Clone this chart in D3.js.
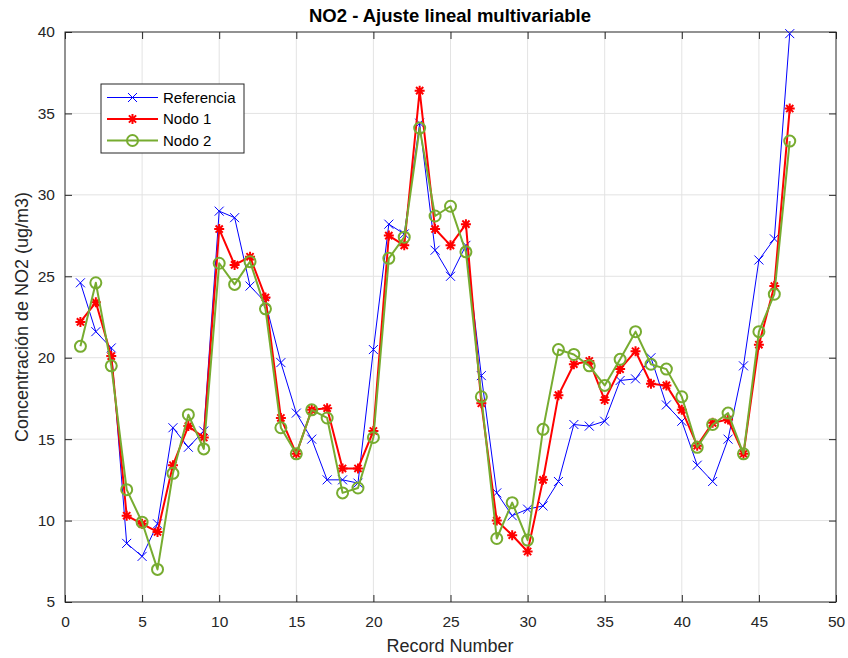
<!DOCTYPE html>
<html>
<head>
<meta charset="utf-8">
<script src="https://cdn.jsdelivr.net/npm/d3@7"></script>
<style>
  body { margin: 0; background: #fff; }
  svg { display: block; font-family: "Liberation Sans", Arial, Helvetica, sans-serif; }
</style>
</head>
<body>
<div id="chart"></div>
<script>
// NO2 - ajuste lineal multivariable
const referencia = [24.6, 21.6, 20.6, 8.6, 7.8, 9.8, 15.7, 14.5, 15.5, 29.0,
  28.6, 24.4, 23.4, 19.7, 16.6, 15.0, 12.5, 12.5, 12.3, 20.5,
  28.2, 27.6, 34.4, 26.6, 25.0, 26.9, 18.9, 11.7, 10.3, 10.7,
  10.9, 12.4, 15.9, 15.8, 16.1, 18.6, 18.7, 20.0, 17.1, 16.1,
  13.4, 12.4, 15.0, 19.5, 26.0, 27.3, 39.9];
const nodo1 = [22.2, 23.4, 20.1, 10.3, 9.8, 9.3, 13.4, 15.8, 15.1, 27.9,
  25.7, 26.2, 23.7, 16.3, 14.1, 16.8, 16.9, 13.2, 13.2, 15.5,
  27.5, 26.9, 36.4, 27.9, 26.9, 28.2, 17.2, 10.0, 9.1, 8.1,
  12.5, 17.7, 19.6, 19.8, 17.4, 19.3, 20.4, 18.4, 18.3, 16.8,
  14.6, 16.0, 16.2, 14.1, 20.8, 24.4, 35.3];
const nodo2 = [20.7, 24.6, 19.5, 11.9, 9.9, 7.0, 12.9, 16.5, 14.4, 25.8,
  24.5, 25.9, 23.0, 15.7, 14.1, 16.8, 16.3, 11.7, 12.0, 15.1,
  26.1, 27.4, 34.1, 28.7, 29.3, 26.5, 17.6, 8.9, 11.1, 8.8,
  15.6, 20.5, 20.2, 19.5, 18.3, 19.9, 21.6, 19.6, 19.3, 17.6,
  14.5, 15.9, 16.6, 14.1, 21.6, 23.9, 33.3];
const xTicks = [0, 5, 10, 15, 20, 25, 30, 35, 40, 45, 50];
const yTicks = [5, 10, 15, 20, 25, 30, 35, 40];

const W = 848, H = 658;
const margin = { top: 32, right: 12, bottom: 56, left: 65 };
const iw = 836 - margin.left, ih = 602 - margin.top;

const series = [
  { name: 'Referencia', values: referencia, color: '#0000ff', width: 1, marker: 'x' },
  { name: 'Nodo 1', values: nodo1, color: '#ff0000', width: 2, marker: 'star' },
  { name: 'Nodo 2', values: nodo2, color: '#77ac30', width: 2, marker: 'circle' }
];

const svg = d3.select('#chart').append('svg')
  .attr('width', W).attr('height', H);

const g = svg.append('g')
  .attr('transform', `translate(${margin.left},${margin.top})`);

const x = d3.scaleLinear().domain([0, 50]).range([0, iw]);
const y = d3.scaleLinear().domain([5, 40]).range([ih, 0]);

// grid
g.append('g').selectAll('line').data(xTicks.slice(1, -1)).enter().append('line')
  .attr('x1', d => x(d)).attr('x2', d => x(d))
  .attr('y1', 0).attr('y2', ih)
  .attr('stroke', '#e3e3e3').attr('stroke-width', 1);
g.append('g').selectAll('line').data(yTicks.slice(1, -1)).enter().append('line')
  .attr('x1', 0).attr('x2', iw)
  .attr('y1', d => y(d)).attr('y2', d => y(d))
  .attr('stroke', '#e3e3e3').attr('stroke-width', 1);

// axes (ticks inward, mirrored on top/right)
function styleAxis(sel) {
  sel.select('.domain').remove();
  sel.selectAll('.tick line').attr('stroke', '#262626');
  sel.selectAll('.tick text').attr('fill', '#262626')
    .attr('font-size', '15.5px');
}
g.append('g').attr('transform', `translate(0,${ih})`)
  .call(d3.axisBottom(x).tickValues(xTicks).tickSize(-7).tickPadding(14))
  .call(styleAxis);
g.append('g')
  .call(d3.axisLeft(y).tickValues(yTicks).tickSize(-7).tickPadding(10))
  .call(styleAxis);
g.append('g')
  .call(d3.axisTop(x).tickValues(xTicks).tickSize(-7).tickFormat(''))
  .call(styleAxis);
g.append('g').attr('transform', `translate(${iw},0)`)
  .call(d3.axisRight(y).tickValues(yTicks).tickSize(-7).tickFormat(''))
  .call(styleAxis);

g.append('rect')
  .attr('x', 0).attr('y', 0).attr('width', iw).attr('height', ih)
  .attr('fill', 'none').attr('stroke', '#262626').attr('stroke-width', 1);

// markers
function drawMarker(sel, type, color) {
  if (type === 'x') {
    const s = 4.5;
    sel.append('path')
      .attr('d', `M${-s},${-s}L${s},${s}M${-s},${s}L${s},${-s}`)
      .attr('stroke', color).attr('stroke-width', 1).attr('fill', 'none');
  } else if (type === 'star') {
    const s = 5, d = 3.6;
    sel.append('path')
      .attr('d', `M${-s},0L${s},0M0,${-s}L0,${s}M${-d},${-d}L${d},${d}M${-d},${d}L${d},${-d}`)
      .attr('stroke', color).attr('stroke-width', 2).attr('fill', 'none');
  } else {
    sel.append('circle').attr('r', 5.5)
      .attr('stroke', color).attr('stroke-width', 2).attr('fill', 'none');
  }
}

const line = d3.line().x((d, i) => x(i + 1)).y(d => y(d));

series.forEach(s => {
  g.append('path')
    .datum(s.values)
    .attr('d', line)
    .attr('fill', 'none')
    .attr('stroke', s.color)
    .attr('stroke-width', s.width)
    .attr('stroke-linejoin', 'round');
  g.append('g').selectAll('g').data(s.values).enter().append('g')
    .attr('transform', (d, i) => `translate(${x(i + 1)},${y(d)})`)
    .each(function() { drawMarker(d3.select(this), s.marker, s.color); });
});

// legend
const lg = svg.append('g').attr('transform', 'translate(101,84)');
lg.append('rect').attr('width', 143).attr('height', 69)
  .attr('fill', '#fff').attr('stroke', '#262626').attr('stroke-width', 1);
series.forEach((s, i) => {
  const ry = 13.5 + i * 21.5;
  lg.append('line').attr('x1', 6).attr('x2', 57).attr('y1', ry).attr('y2', ry)
    .attr('stroke', s.color).attr('stroke-width', s.width);
  const m = lg.append('g').attr('transform', `translate(31.5,${ry})`);
  drawMarker(m, s.marker, s.color);
  lg.append('text').attr('x', 62).attr('y', ry).attr('dy', '0.35em')
    .attr('font-size', '15px').attr('fill', '#000').text(s.name);
});

// titles
svg.append('text')
  .attr('x', 450).attr('y', 22).attr('text-anchor', 'middle')
  .attr('font-size', '18.5px').attr('font-weight', 'bold').attr('fill', '#000')
  .text('NO2 - Ajuste lineal multivariable');
svg.append('text')
  .attr('x', 450).attr('y', 652).attr('text-anchor', 'middle')
  .attr('font-size', '18px').attr('fill', '#262626')
  .text('Record Number');
svg.append('text')
  .attr('transform', 'translate(28,317) rotate(-90)')
  .attr('text-anchor', 'middle')
  .attr('font-size', '18px').attr('fill', '#262626')
  .text('Concentración de NO2 (ug/m3)');
</script>
</body>
</html>
